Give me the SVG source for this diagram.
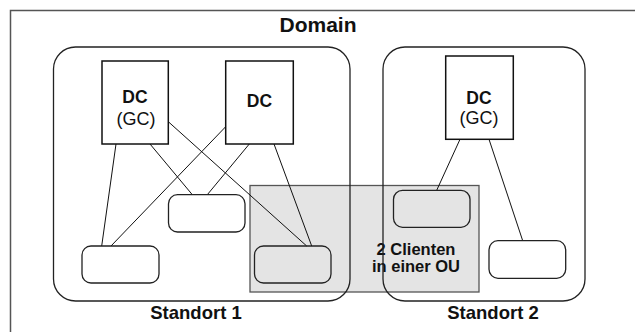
<svg xmlns="http://www.w3.org/2000/svg" width="635" height="332" viewBox="0 0 635 332">
  <style>
    .frame { fill: none; stroke: #555; stroke-width: 1.5; }
    .site { fill: none; stroke: #222; stroke-width: 1.3; }
    .ou { fill: #e4e4e4; stroke: #555; stroke-width: 1.3; }
    .dc { fill: #fff; stroke: #111; stroke-width: 1.5; }
    .client { fill: #fff; stroke: #222; stroke-width: 1.3; }
    .client.in-ou { fill: none; }
    .link { stroke: #111; stroke-width: 1; fill: none; }
    text { font-family: "Liberation Sans", Arial, sans-serif; fill: #111; text-anchor: middle; }
    .b { font-weight: bold; }
  </style>

  <!-- domain frame: top and left edges only -->
  <g id="domain">
    <path class="frame" d="M10.5 332 V10.5 H635"/>
    <text class="b" x="318" y="32" font-size="21">Domain</text>
  </g>

  <!-- organisational unit spanning both sites -->
  <g id="ou">
    <rect class="ou" x="250" y="185.5" width="229" height="106.5"/>
    <text class="b" x="416" y="254.5" font-size="16.5">2 Clienten</text>
    <text class="b" x="416" y="272" font-size="16.5">in einer OU</text>
  </g>

  <g id="standort1">
    <rect class="site" x="53.5" y="47" width="296.5" height="254" rx="22"/>
    <text class="b" x="196" y="319" font-size="18.5">Standort 1</text>
  </g>

  <g id="standort2">
    <rect class="site" x="383" y="47" width="202" height="254" rx="22"/>
    <text class="b" x="493" y="319" font-size="18.5">Standort 2</text>
  </g>

  <!-- connections between domain controllers and clients -->
  <g id="connectors">
    <line class="link" x1="116" y1="144" x2="101.7" y2="246"/>
    <line class="link" x1="150" y1="144" x2="192.3" y2="194.7"/>
    <line class="link" x1="168.3" y1="121.7" x2="306.7" y2="246"/>
    <line class="link" x1="225.7" y1="126.7" x2="111" y2="246"/>
    <line class="link" x1="249.3" y1="144" x2="207.3" y2="194.7"/>
    <line class="link" x1="274" y1="144" x2="311.7" y2="246"/>
    <line class="link" x1="460" y1="139.3" x2="436.7" y2="190.3"/>
    <line class="link" x1="489" y1="139.3" x2="522.7" y2="240.7"/>
  </g>

  <g id="dc1">
    <rect class="dc" x="102" y="61" width="66.3" height="83"/>
    <text class="b" x="135" y="103" font-size="17.5">DC</text>
    <text x="136" y="124.5" font-size="18">(GC)</text>
  </g>

  <g id="dc2">
    <rect class="dc" x="225.7" y="61" width="67.6" height="83"/>
    <text class="b" x="259.5" y="107" font-size="17.5">DC</text>
  </g>

  <g id="dc3">
    <rect class="dc" x="445.7" y="56" width="67.6" height="83.3"/>
    <text class="b" x="479" y="103.5" font-size="17.5">DC</text>
    <text x="479" y="123.5" font-size="18">(GC)</text>
  </g>

  <g id="client1">
    <rect class="client" x="82" y="246" width="77" height="37" rx="9"/>
  </g>
  <g id="client2">
    <rect class="client" x="168.5" y="194.7" width="76.5" height="37.3" rx="9"/>
  </g>
  <g id="client3">
    <rect class="client in-ou" x="254.5" y="246" width="76.5" height="37" rx="9"/>
  </g>
  <g id="client4">
    <rect class="client in-ou" x="393.5" y="190.3" width="76.5" height="37" rx="9"/>
  </g>
  <g id="client5">
    <rect class="client" x="489" y="240.7" width="76.7" height="37.6" rx="9"/>
  </g>
</svg>
